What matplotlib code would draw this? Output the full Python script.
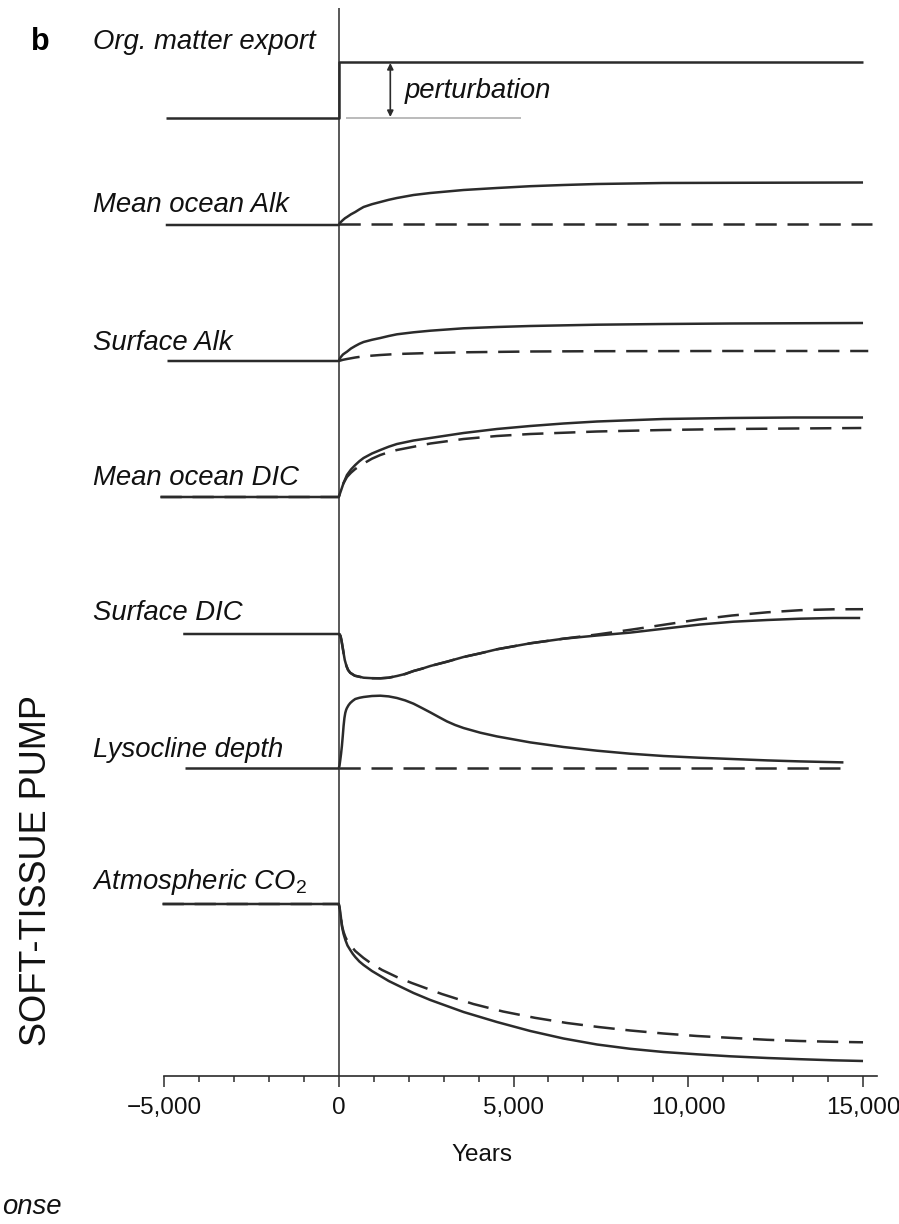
import matplotlib.pyplot as plt
from matplotlib.ticker import MultipleLocator, FixedLocator, FixedFormatter

plt.rcParams["font.family"] = ["Liberation Sans", "DejaVu Sans"]
plt.rcParams["mathtext.fontset"] = "custom"
plt.rcParams["mathtext.rm"] = "Liberation Sans"
plt.rcParams["mathtext.it"] = "Liberation Sans:italic"

# ---- data (years, response relative to each panel's baseline) ----
export_yrs = [-4950, 0, 0, 15000]
export_val = [0, 0, 56, 56]
ref_yrs = [200, 5200]            # grey pre-perturbation reference

alk_yrs = [-4950, 0, 30, 60, 120, 180, 235, 350, 472, 590, 710, 950, 1190, 1430, 1665, 2140, 2620, 3570, 4525, 5480, 6430, 7390, 9290, 11200, 15000]
alk_val = [0, 0, 1.8, 3, 5, 6.8, 8, 10.7, 13, 15.6, 18, 20.8, 23, 25.2, 27, 30, 32, 35, 37, 38.8, 40, 41, 42, 42.2, 42.5]
alk_ref_yrs = [0, 15250]
alk_ref_val = [1.5, 1.5]

salk_yrs = [-4900, 0, 30, 60, 120, 180, 235, 350, 472, 590, 710, 950, 1190, 1430, 1665, 2140, 2620, 3570, 4525, 5480, 7390, 9290, 11200, 15000]
salk_val = [0, 0, 2.3, 4, 6.5, 8, 9.3, 12.5, 15, 17.2, 19, 21.2, 23, 25, 26.7, 28.7, 30.3, 32.7, 34, 35, 36.3, 37, 37.5, 38]
salk_ref_yrs = [0, 120, 235, 472, 710, 1190, 1665, 2620, 3570, 5480, 7390, 11200, 15150]
salk_ref_val = [0, 1.2, 2, 3.5, 4.7, 6, 7, 8, 8.7, 9.5, 9.8, 10, 10]

dic_yrs = [-5100, 0, 30, 60, 138, 235, 350, 472, 590, 710, 950, 1190, 1430, 1665, 2140, 2620, 3570, 4525, 5480, 6430, 7390, 9290, 11200, 13000, 15000]
dic_val = [0, 0, 3, 6, 14, 22, 27.5, 32, 35.8, 39, 43.5, 47, 50.3, 53, 56.5, 59, 64, 68, 71, 73.5, 75.5, 78, 79, 79.5, 79.5]
dic_ref_yrs = [-5100, 0, 30, 60, 138, 235, 350, 472, 590, 710, 950, 1190, 1430, 1665, 2620, 3570, 4525, 5480, 7390, 9290, 11200, 14950]
dic_ref_val = [0, 0, 3, 6, 14, 20, 24.3, 28, 30.8, 33.5, 38.3, 42, 44.8, 47, 53.5, 58, 61, 63, 65.5, 67, 68, 69]

sdic_yrs = [-4450, 0, 25, 50, 76, 100, 124, 150, 172, 220, 267, 329, 458, 710, 950, 1190, 1430, 1665, 1900, 2140, 2380, 2620, 3095, 3570, 4050, 4525, 5480, 6430, 7390, 8340, 9350, 10340, 11290, 12260, 13200, 14150, 14920]
sdic_val = [0, 0, -0.3, -2, -6, -11, -16, -21.5, -26, -32, -36, -38.8, -41.7, -43.7, -44.2, -44.3, -43.7, -42, -40, -37, -34.7, -32, -27.7, -23, -19.3, -15.3, -9.3, -4.7, -1.5, 1.4, 5.5, 9.5, 12.3, 14, 15.3, 16, 16]
sdic_ref_yrs = [0, 25, 50, 76, 100, 124, 150, 172, 220, 267, 329, 458, 710, 950, 1190, 1430, 1665, 1900, 2140, 2380, 2620, 3095, 3570, 4050, 4525, 5480, 6430, 7390, 8400, 9350, 10300, 11250, 12260, 13200, 14150, 15000]
sdic_ref_val = [0, -0.3, -2, -6, -11, -16, -21.5, -26, -32, -36, -38.8, -41.7, -43.7, -44.2, -44.3, -43.7, -42, -40, -37, -34.7, -32, -27.7, -23, -19.3, -15.3, -9.3, -4.7, -0.5, 4.5, 9.5, 14.5, 18.5, 21.7, 23.8, 24.7, 24.8]

lys_base_yrs = [-4390, 0]
lys_yrs = [0, 20, 43, 65, 90, 115, 138, 162, 186, 210, 234, 280, 329, 400, 472, 590, 710, 950, 1190, 1430, 1665, 1900, 2140, 2380, 2620, 2860, 3095, 3330, 3570, 4050, 4525, 5480, 6430, 7390, 8340, 9290, 10300, 11250, 12260, 13200, 14440]
lys_val = [0, 2, 8, 14, 22, 32, 42, 50, 55, 58, 60, 62.8, 65, 67.2, 69, 70.2, 71, 72, 72.3, 71.6, 70, 67.6, 64.3, 60, 55.6, 51, 46.6, 43, 40, 35.3, 31.6, 25.6, 21, 17.3, 14.3, 12, 10.3, 9, 7.6, 6.6, 5.6]
lys_ref_yrs = [0, 14350]

co2_yrs = [-5040, 0, 20, 48, 70, 95, 138, 190, 250, 329, 400, 472, 590, 710, 950, 1190, 1430, 1665, 2140, 2620, 3570, 4525, 5480, 6430, 7390, 8340, 9290, 10250, 11200, 12260, 13200, 14150, 15000]
co2_val = [0, 0, -3, -9, -16, -23, -30, -36, -41.5, -46, -49.8, -53, -57.5, -61, -67, -72, -77, -81, -89, -96, -108, -118, -127, -134.5, -140.5, -144.8, -148, -150.3, -152.3, -154, -155.2, -156.3, -157]
co2_ref_yrs = [-5040, 0, 20, 48, 70, 95, 138, 190, 250, 329, 472, 710, 950, 1240, 1660, 2090, 2950, 3850, 4700, 5610, 6530, 7430, 8340, 9290, 10250, 11290, 12260, 13200, 14150, 15000]
co2_ref_val = [0, 0, -3, -9, -16, -22, -28, -33, -37.3, -41, -47, -54, -60, -66, -73, -79, -90, -100, -107.5, -113.8, -119, -123, -126.5, -129.5, -132, -134, -135.8, -137, -137.8, -138.3]

major_ticks = [-5000, 0, 5000, 10000, 15000]
major_labels = ["\u22125,000", "0", "5,000", "10,000", "15,000"]

# ---- layout ----
W, H = 899, 1224
INK = "#2b2b2b"
base = {"export": 958, "alk": 851, "salk": 715, "dic": 579, "sdic": 442, "lys": 308, "co2": 172}
DASH = (8.5, 4.3)

fig = plt.figure(figsize=(W / 100, H / 100), dpi=100)
ax = fig.add_axes([164 / W, 148 / H, 713 / W, 1068 / H])
ax.set_xlim(-5000, 15400)
ax.set_ylim(0, 1068)


def fp(x, y):
    return x / W, 1 - y / H


def lane(yrs, vals, key, dashed=False, color=INK, lw=1.8):
    kw = dict(color=color, lw=lw, clip_on=False, solid_capstyle="butt",
              solid_joinstyle="round")
    if dashed:
        kw["dashes"] = DASH
        kw["dash_capstyle"] = "butt"
    ax.plot(yrs, [base[key] + v for v in vals], **kw)


ax.axvline(0, color=INK, lw=1.1, zorder=1)

# Org. matter export
lane(export_yrs, export_val, "export")
lane(ref_yrs, [0, 0], "export", color="#a8a8a8", lw=1.1)
ax.annotate("", xy=(1475, base["export"] + 55), xytext=(1475, base["export"] + 1),
            arrowprops=dict(arrowstyle="<|-|>", color=INK, lw=1.2,
                            mutation_scale=9, shrinkA=0, shrinkB=0))

lane(alk_yrs, alk_val, "alk")
lane(alk_ref_yrs, alk_ref_val, "alk", dashed=True)
lane(salk_yrs, salk_val, "salk")
lane(salk_ref_yrs, salk_ref_val, "salk", dashed=True)
lane(dic_yrs, dic_val, "dic")
lane(dic_ref_yrs, dic_ref_val, "dic", dashed=True)
lane(sdic_yrs, sdic_val, "sdic")
lane(sdic_ref_yrs, sdic_ref_val, "sdic", dashed=True)
lane(lys_base_yrs, [0, 0], "lys")
lane(lys_yrs, lys_val, "lys")
lane(lys_ref_yrs, [0, 0], "lys", dashed=True)
lane(co2_yrs, co2_val, "co2")
lane(co2_ref_yrs, co2_ref_val, "co2", dashed=True)

# axis styling
for s in ["left", "right", "top"]:
    ax.spines[s].set_visible(False)
ax.spines["bottom"].set_color(INK)
ax.spines["bottom"].set_linewidth(1.2)
ax.set_yticks([])
ax.xaxis.set_major_locator(FixedLocator(major_ticks))
ax.xaxis.set_major_formatter(FixedFormatter(major_labels))
ax.xaxis.set_minor_locator(MultipleLocator(1000))
ax.tick_params(axis="x", which="major", length=8, width=1.1, color=INK,
               labelsize=17.5, pad=7, labelcolor="#111111")
ax.tick_params(axis="x", which="minor", length=4.5, width=1.1, color=INK)

# labels
lab = dict(fontsize=19.8, style="italic", va="center", ha="left", color="#111111")
fig.text(*fp(93, 42), "Org. matter export", **lab)
fig.text(*fp(93, 205), "Mean ocean Alk", **lab)
fig.text(*fp(93, 343), "Surface Alk", **lab)
fig.text(*fp(93, 478), "Mean ocean DIC", **lab)
fig.text(*fp(93, 613), "Surface DIC", **lab)
fig.text(*fp(93, 750), "Lysocline depth", **lab)
fig.text(*fp(92, 882), "Atmospheric CO$_2$", **lab)
fig.text(*fp(405, 91), "perturbation", **lab)
fig.text(*fp(2, 1207), "onse", fontsize=19.8, style="italic", va="center", ha="left", color="#111111")

fig.text(*fp(40, 42), "b", fontsize=22, fontweight="bold", va="center", ha="center")
fig.text(*fp(37, 871), "SOFT-TISSUE PUMP", fontsize=26, rotation=90, va="center", ha="center", color="#111111")
fig.text(*fp(482, 1155), "Years", fontsize=17.5, va="center", ha="center", color="#111111")

fig.savefig("out.png", dpi=100, facecolor="white")
